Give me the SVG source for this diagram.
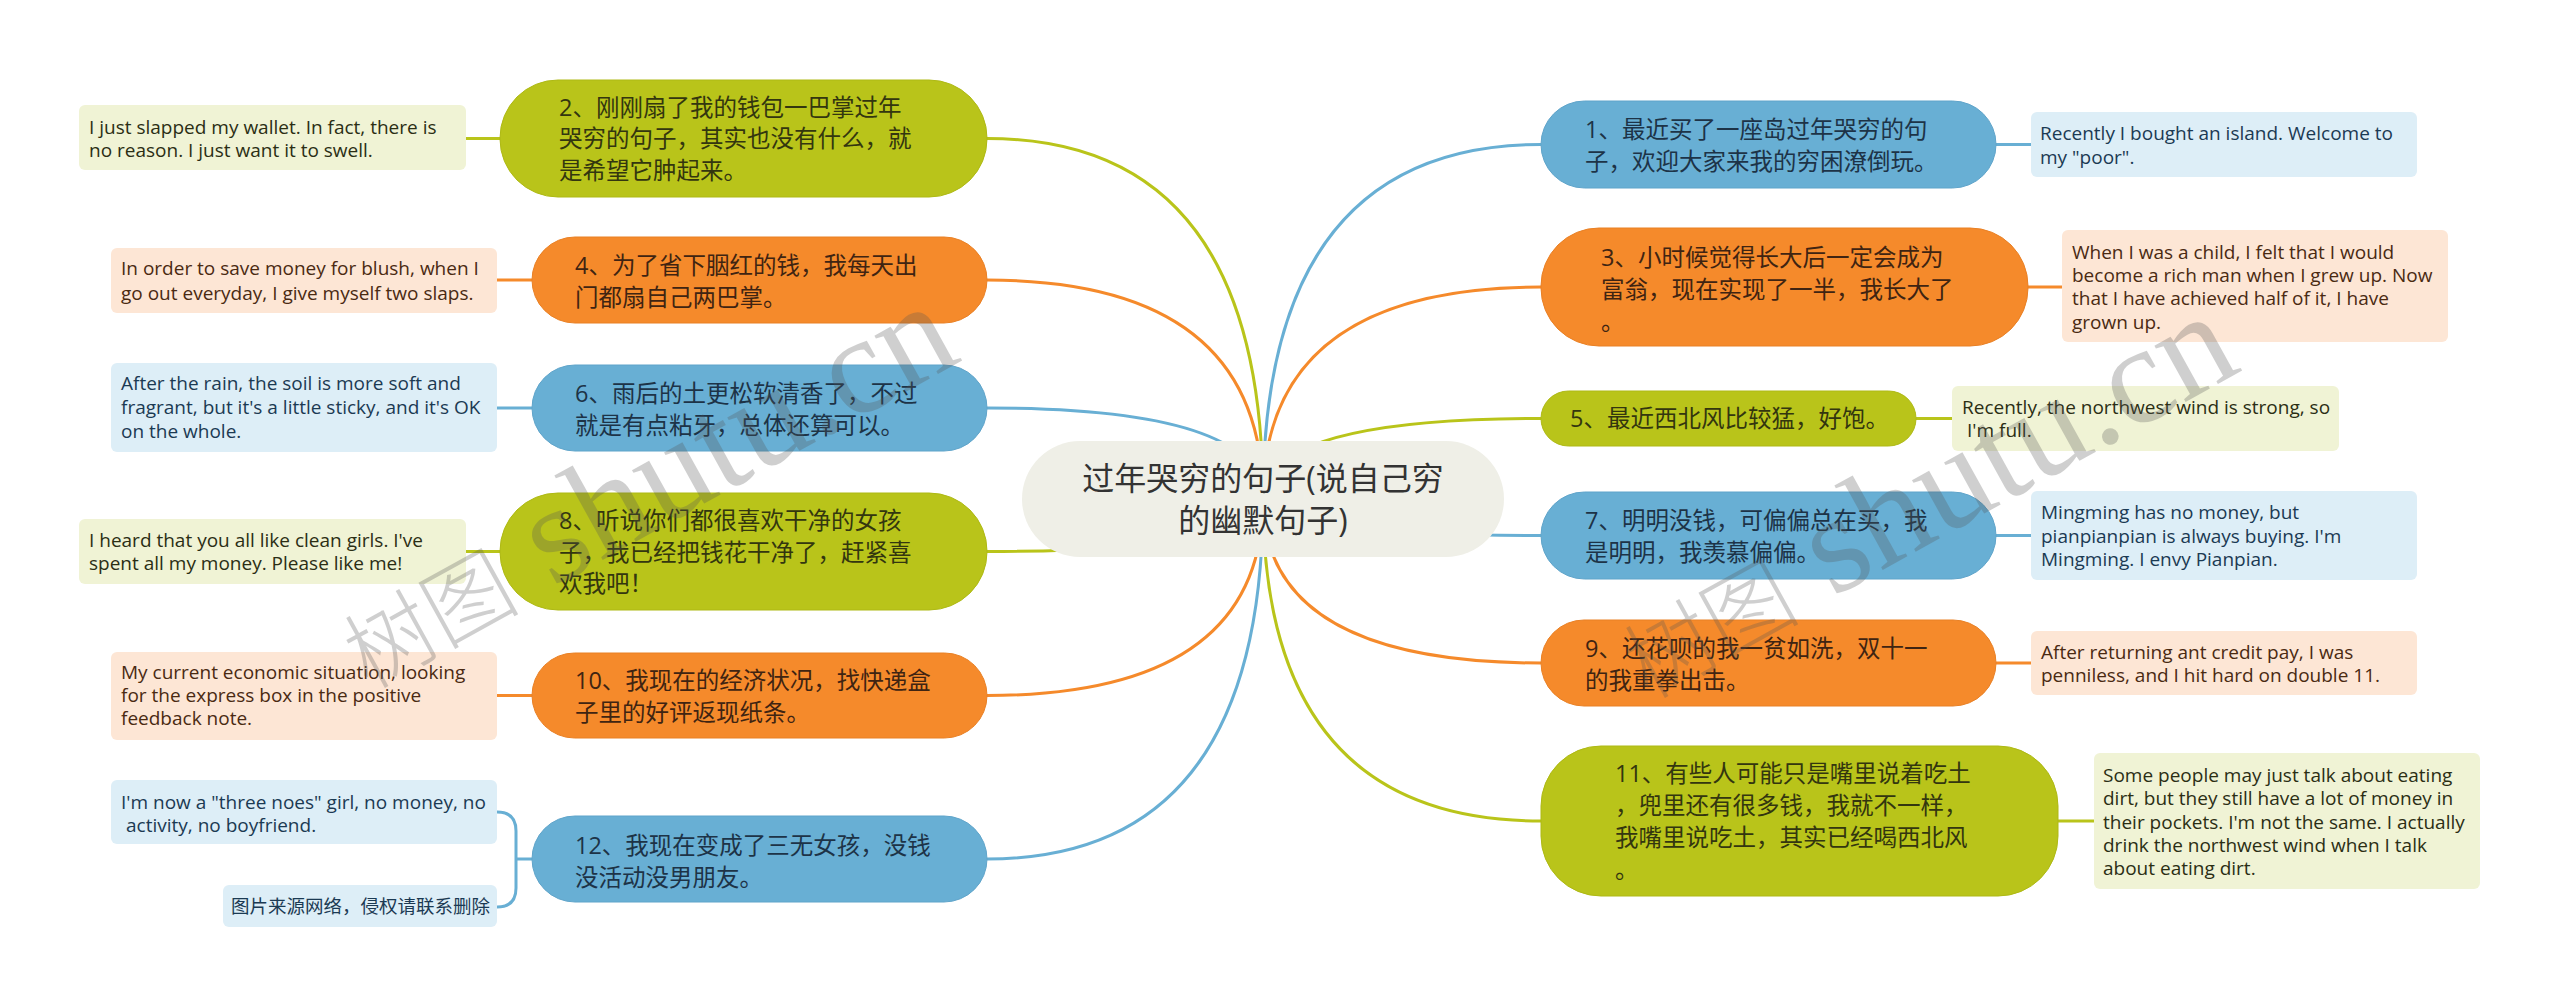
<svg xmlns="http://www.w3.org/2000/svg" width="2560" height="1006" viewBox="0 0 2560 1006">
<style>
.bg{fill:#ffffff}
.cb{fill:none;stroke:#68afd4;stroke-width:3}
.co{fill:none;stroke:#f58a2b;stroke-width:3}
.cg{fill:none;stroke:#b9c41a;stroke-width:3}
.pb{fill:#68afd4;stroke:#5fa4ca;stroke-width:1}
.po{fill:#f58a2b;stroke:#e98024;stroke-width:1}
.pg{fill:#b9c41a;stroke:#aeb914;stroke-width:1}
.pc{fill:#efefe7}
.lb{fill:#ddeef7}
.lo{fill:#fde6d5}
.lg{fill:#f0f3d5}
.t{font-family:"Open Sans","Noto Sans CJK SC",sans-serif;font-size:23.5px}
.tb{fill:#1d3347}
.to{fill:#3f2412}
.tg{fill:#33360f}
.tc{font-family:"Open Sans","Noto Sans CJK SC",sans-serif;font-size:32px;fill:#333333;text-anchor:middle}
.s{font-family:"Open Sans","Noto Sans CJK SC",sans-serif;font-size:19px}
.sb{fill:#1b3a53}
.so{fill:#4a2a12}
.sg{fill:#2b2e14}
.wm{fill:#555555;opacity:0.28}
.wc{font-family:"Noto Sans CJK SC",sans-serif;font-size:88px;font-weight:300}
.wl{font-family:"Liberation Serif",serif;font-size:140px}
</style>
<rect class="bg" x="0" y="0" width="2560" height="1006"/>

<g id="connectors">
  <path class="cg" d="M1263,499 Q1263,138.5 987,138.5"/>
  <path class="co" d="M1263,499 Q1263,280 987,280"/>
  <path class="cb" d="M1263,499 Q1263,408 987,408"/>
  <path class="cg" d="M1263,499 Q1263,551.5 987,551.5"/>
  <path class="co" d="M1263,499 Q1263,695.5 987,695.5"/>
  <path class="cb" d="M1263,499 Q1263,859 987,859"/>
  <path class="cb" d="M1263,499 Q1263,144.5 1541,144.5"/>
  <path class="co" d="M1263,499 Q1263,287 1541,287"/>
  <path class="cg" d="M1263,499 Q1263,418.5 1541,418.5"/>
  <path class="cb" d="M1263,499 Q1263,535.5 1541,535.5"/>
  <path class="co" d="M1263,499 Q1263,663 1541,663"/>
  <path class="cg" d="M1263,499 Q1263,821 1541,821"/>
  <path class="cg" d="M466,138.5 H500"/>
  <path class="co" d="M497,280 H532"/>
  <path class="cb" d="M497,408 H532"/>
  <path class="cg" d="M466,551.5 H500"/>
  <path class="co" d="M497,695.5 H532"/>
  <path class="cb" d="M532,859 H516 M497,812 Q516,812 516,831 L516,888 Q516,907 497,907"/>
  <path class="cb" d="M1996,144.5 H2031"/>
  <path class="co" d="M2028,287 H2062"/>
  <path class="cg" d="M1916,418.5 H1952"/>
  <path class="cb" d="M1996,535.5 H2031"/>
  <path class="co" d="M1996,663 H2031"/>
  <path class="cg" d="M2058,821 H2094"/>
</g>

<g id="center">
  <rect class="pc" x="1022" y="441" width="482" height="116" rx="58"/>
  <text class="tc"><tspan x="1263" y="490">过年哭穷的句子(说自己穷</tspan><tspan x="1263" y="532">的幽默句子)</tspan></text>
</g>

<g id="node2">
  <rect class="pg" x="500" y="80" width="487" height="117" rx="58"/>
  <text class="t tg"><tspan x="559" y="116">2、刚刚扇了我的钱包一巴掌过年</tspan><tspan x="559" y="147">哭穷的句子，其实也没有什么，就</tspan><tspan x="559" y="179">是希望它肿起来。</tspan></text>
</g>
<g id="node4">
  <rect class="po" x="532" y="237" width="455" height="86" rx="43"/>
  <text class="t to"><tspan x="575" y="274">4、为了省下胭红的钱，我每天出</tspan><tspan x="575" y="306">门都扇自己两巴掌。</tspan></text>
</g>
<g id="node6">
  <rect class="pb" x="532" y="365" width="455" height="86" rx="43"/>
  <text class="t tb"><tspan x="575" y="402">6、雨后的土更松软清香了，不过</tspan><tspan x="575" y="434">就是有点粘牙，总体还算可以。</tspan></text>
</g>
<g id="node8">
  <rect class="pg" x="500" y="493" width="487" height="117" rx="58"/>
  <text class="t tg"><tspan x="559" y="529">8、听说你们都很喜欢干净的女孩</tspan><tspan x="559" y="561">子，我已经把钱花干净了，赶紧喜</tspan><tspan x="559" y="592">欢我吧！</tspan></text>
</g>
<g id="node10">
  <rect class="po" x="532" y="653" width="455" height="85" rx="42.5"/>
  <text class="t to"><tspan x="575" y="689">10、我现在的经济状况，找快递盒</tspan><tspan x="575" y="721">子里的好评返现纸条。</tspan></text>
</g>
<g id="node12">
  <rect class="pb" x="532" y="816" width="455" height="86" rx="43"/>
  <text class="t tb"><tspan x="575" y="854">12、我现在变成了三无女孩，没钱</tspan><tspan x="575" y="886">没活动没男朋友。</tspan></text>
</g>

<g id="node1">
  <rect class="pb" x="1541" y="101" width="455" height="87" rx="43.5"/>
  <text class="t tb"><tspan x="1585" y="138">1、最近买了一座岛过年哭穷的句</tspan><tspan x="1585" y="170">子，欢迎大家来我的穷困潦倒玩。</tspan></text>
</g>
<g id="node3">
  <rect class="po" x="1541" y="228" width="487" height="118" rx="58"/>
  <text class="t to"><tspan x="1601" y="266">3、小时候觉得长大后一定会成为</tspan><tspan x="1601" y="298">富翁，现在实现了一半，我长大了</tspan><tspan x="1601" y="330">。</tspan></text>
</g>
<g id="node5">
  <rect class="pg" x="1541" y="391" width="375" height="55" rx="27.5"/>
  <text class="t tg"><tspan x="1570" y="427">5、最近西北风比较猛，好饱。</tspan></text>
</g>
<g id="node7">
  <rect class="pb" x="1541" y="492" width="455" height="87" rx="43.5"/>
  <text class="t tb"><tspan x="1585" y="529">7、明明没钱，可偏偏总在买，我</tspan><tspan x="1585" y="561">是明明，我羡慕偏偏。</tspan></text>
</g>
<g id="node9">
  <rect class="po" x="1541" y="620" width="455" height="86" rx="43"/>
  <text class="t to"><tspan x="1585" y="657">9、还花呗的我一贫如洗，双十一</tspan><tspan x="1585" y="689">的我重拳出击。</tspan></text>
</g>
<g id="node11">
  <rect class="pg" x="1541" y="746" width="517" height="150" rx="60"/>
  <text class="t tg"><tspan x="1615" y="782">11、有些人可能只是嘴里说着吃土</tspan><tspan x="1615" y="814">，兜里还有很多钱，我就不一样，</tspan><tspan x="1615" y="846">我嘴里说吃土，其实已经喝西北风</tspan><tspan x="1615" y="878">。</tspan></text>
</g>

<g id="leaf2">
  <rect class="lg" x="79" y="105" width="387" height="65" rx="6"/>
  <text class="s sg"><tspan x="89" y="134">I just slapped my wallet. In fact, there is</tspan><tspan x="89" y="157">no reason. I just want it to swell.</tspan></text>
</g>
<g id="leaf4">
  <rect class="lo" x="111" y="248" width="386" height="65" rx="6"/>
  <text class="s so"><tspan x="121" y="275">In order to save money for blush, when I</tspan><tspan x="121" y="300">go out everyday, I give myself two slaps.</tspan></text>
</g>
<g id="leaf6">
  <rect class="lb" x="111" y="363" width="386" height="89" rx="6"/>
  <text class="s sb"><tspan x="121" y="390">After the rain, the soil is more soft and</tspan><tspan x="121" y="414">fragrant, but it's a little sticky, and it's OK</tspan><tspan x="121" y="438">on the whole.</tspan></text>
</g>
<g id="leaf8">
  <rect class="lg" x="79" y="519" width="387" height="65" rx="6"/>
  <text class="s sg"><tspan x="89" y="547">I heard that you all like clean girls. I've</tspan><tspan x="89" y="570">spent all my money. Please like me!</tspan></text>
</g>
<g id="leaf10">
  <rect class="lo" x="111" y="652" width="386" height="88" rx="6"/>
  <text class="s so"><tspan x="121" y="679">My current economic situation, looking</tspan><tspan x="121" y="702">for the express box in the positive</tspan><tspan x="121" y="725">feedback note.</tspan></text>
</g>
<g id="leaf12a">
  <rect class="lb" x="111" y="780" width="386" height="64" rx="6"/>
  <text class="s sb"><tspan x="121" y="809">I'm now a "three noes" girl, no money, no</tspan><tspan x="126" y="832">activity, no boyfriend.</tspan></text>
</g>
<g id="leaf12b">
  <rect class="lb" x="223" y="885" width="274" height="42" rx="6"/>
  <text class="s sb" style="font-size:18.5px"><tspan x="231" y="913">图片来源网络，侵权请联系删除</tspan></text>
</g>

<g id="leaf1">
  <rect class="lb" x="2031" y="112" width="386" height="65" rx="6"/>
  <text class="s sb"><tspan x="2040" y="140">Recently I bought an island. Welcome to</tspan><tspan x="2040" y="164">my "poor".</tspan></text>
</g>
<g id="leaf3">
  <rect class="lo" x="2062" y="230" width="386" height="112" rx="6"/>
  <text class="s so"><tspan x="2072" y="259">When I was a child, I felt that I would</tspan><tspan x="2072" y="282">become a rich man when I grew up. Now</tspan><tspan x="2072" y="305">that I have achieved half of it, I have</tspan><tspan x="2072" y="329">grown up.</tspan></text>
</g>
<g id="leaf5">
  <rect class="lg" x="1952" y="386" width="387" height="65" rx="6"/>
  <text class="s sg"><tspan x="1962" y="414">Recently, the northwest wind is strong, so</tspan><tspan x="1967" y="437">I'm full.</tspan></text>
</g>
<g id="leaf7">
  <rect class="lb" x="2031" y="491" width="386" height="89" rx="6"/>
  <text class="s sb"><tspan x="2041" y="519">Mingming has no money, but</tspan><tspan x="2041" y="543">pianpianpian is always buying. I'm</tspan><tspan x="2041" y="566">Mingming. I envy Pianpian.</tspan></text>
</g>
<g id="leaf9">
  <rect class="lo" x="2031" y="631" width="386" height="64" rx="6"/>
  <text class="s so"><tspan x="2041" y="659">After returning ant credit pay, I was</tspan><tspan x="2041" y="682">penniless, and I hit hard on double 11.</tspan></text>
</g>
<g id="leaf11">
  <rect class="lg" x="2094" y="753" width="386" height="136" rx="6"/>
  <text class="s sg"><tspan x="2103" y="782">Some people may just talk about eating</tspan><tspan x="2103" y="805">dirt, but they still have a lot of money in</tspan><tspan x="2103" y="829">their pockets. I'm not the same. I actually</tspan><tspan x="2103" y="852">drink the northwest wind when I talk</tspan><tspan x="2103" y="875">about eating dirt.</tspan></text>
</g>

<g id="watermark">
  <text class="wm" transform="translate(368,690) rotate(-29)"><tspan class="wc">树图</tspan><tspan class="wl"> shutu.cn</tspan></text>
  <text class="wm" transform="translate(1648,700) rotate(-29)"><tspan class="wc">树图</tspan><tspan class="wl"> shutu.cn</tspan></text>
</g>
</svg>
